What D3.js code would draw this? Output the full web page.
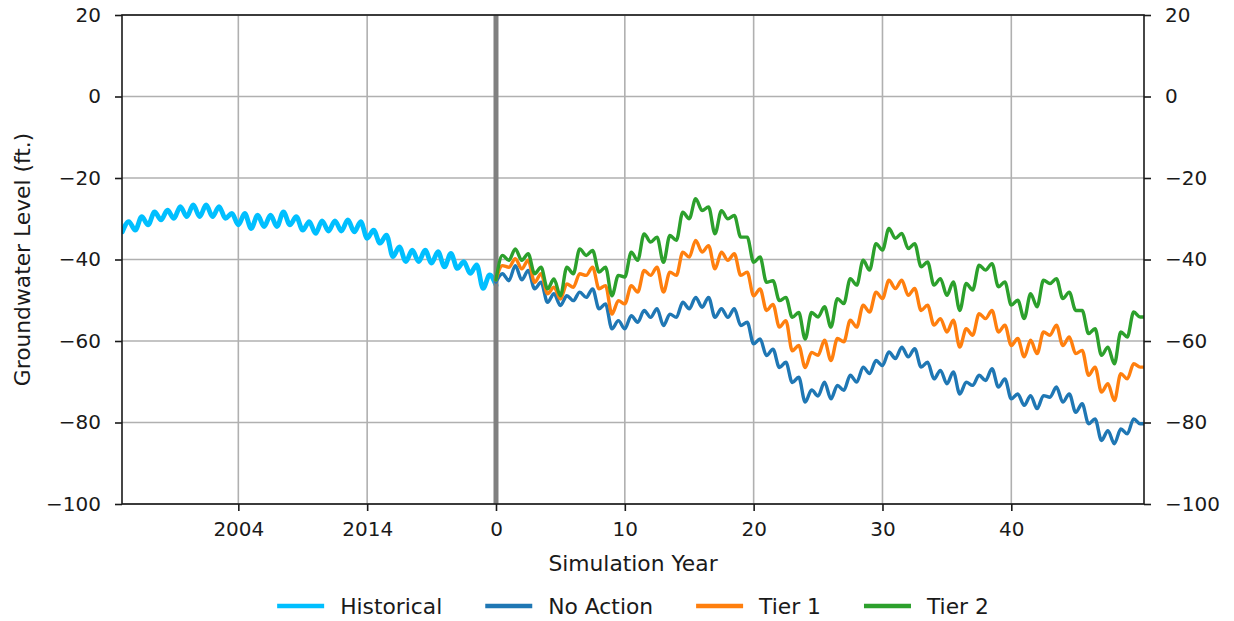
<!DOCTYPE html>
<html>
<head>
<meta charset="utf-8">
<script src="https://cdn.jsdelivr.net/npm/d3@7"></script>
<style>
  body { margin: 0; background: #ffffff; }
  text { font-family: "DejaVu Sans", sans-serif; fill: #1a1a1a; }
</style>
</head>
<body>
<svg id="chart" width="1234" height="621"></svg>
<script>
// Half-year groundwater levels (ft.). Historical record runs from year -29 to 0,
// scenario projections from simulation year 0 to the end of year 50.
const histStart = -29;
const step = 0.5;
const projEnd = 50.3;

const historical = [
  -33.2, -30.7, -32.8, -29.5, -31.5, -28.3, -30.3, -27.9, -29.9, -27.0,
  -29.5, -26.6, -29.5, -26.6, -29.5, -27.0, -29.9, -28.7, -31.5, -28.7,
  -32.4, -29.1, -31.9, -29.1, -31.9, -28.3, -31.5, -29.5, -32.8, -30.7,
  -33.6, -30.5, -33.0, -30.5, -33.0, -30.3, -33.2, -30.7, -34.8, -32.8,
  -36.0, -34.0, -39.3, -36.9, -40.5, -37.7, -40.5, -37.7, -40.9, -38.1,
  -41.8, -38.5, -42.2, -40.5, -43.4, -41.3, -47.1, -43.8, -46.3
];

const noAction = [
  -45.5, -43.5, -45.2, -41.5, -45.0, -42.7, -47.2, -45.6, -50.5, -48.4,
  -51.3, -48.9, -50.1, -48.0, -49.3, -47.2, -52.1, -50.9, -57.0, -55.0,
  -57.0, -53.8, -55.4, -52.5, -54.2, -52.1, -56.2, -53.4, -54.2, -50.5,
  -52.1, -49.3, -51.7, -49.3, -54.2, -52.1, -54.2, -52.1, -56.2, -55.4,
  -60.7, -59.5, -63.6, -62.0, -66.5, -65.2, -70.2, -68.9, -75.0, -72.0,
  -73.5, -70.1, -74.2, -70.9, -72.1, -68.4, -70.1, -66.4, -68.0, -64.8,
  -66.0, -62.7, -64.3, -61.5, -63.9, -61.9, -66.4, -65.2, -69.3, -67.2,
  -70.5, -67.6, -73.0, -70.1, -70.9, -68.4, -69.7, -66.8, -71.3, -69.3,
  -74.2, -73.0, -75.8, -73.4, -76.6, -73.4, -73.8, -71.3, -75.0, -73.0,
  -77.5, -75.4, -80.3, -79.1, -84.4, -82.0, -85.2, -81.6, -82.8, -79.1,
  -80.3, -80.3
];

const tier1 = [
  -45.0, -41.5, -41.9, -39.8, -42.3, -40.2, -45.6, -43.5, -48.4, -46.8,
  -49.7, -46.0, -46.8, -43.5, -43.9, -41.9, -47.2, -46.4, -53.4, -50.1,
  -50.9, -46.4, -48.0, -42.7, -43.9, -41.9, -48.0, -43.1, -43.9, -38.2,
  -39.4, -35.3, -38.2, -36.6, -42.3, -38.2, -40.2, -38.6, -43.9, -43.1,
  -48.9, -47.2, -52.5, -51.0, -56.6, -55.0, -62.4, -61.1, -66.5, -62.8,
  -63.5, -59.8, -64.8, -59.4, -60.2, -54.9, -56.6, -51.2, -52.9, -48.0,
  -49.6, -45.1, -47.1, -45.1, -48.8, -47.1, -52.5, -51.2, -56.1, -54.5,
  -57.8, -54.9, -61.5, -57.0, -58.6, -53.3, -54.5, -52.5, -57.8, -56.1,
  -61.1, -59.4, -63.9, -59.8, -63.1, -57.8, -58.6, -56.1, -61.1, -59.0,
  -63.1, -62.3, -68.4, -66.4, -72.5, -70.5, -74.6, -68.0, -69.3, -65.6,
  -66.4, -66.4
];

const tier2 = [
  -45.0, -39.0, -40.2, -37.4, -40.2, -38.6, -43.5, -41.9, -47.2, -44.8,
  -48.9, -41.9, -43.5, -37.4, -39.0, -37.8, -43.1, -41.9, -48.9, -43.9,
  -44.3, -38.2, -40.2, -33.7, -35.7, -34.5, -40.7, -34.1, -35.3, -28.4,
  -30.0, -25.1, -28.0, -27.1, -33.7, -28.0, -30.0, -29.2, -34.5, -34.5,
  -40.7, -39.4, -45.6, -45.2, -50.1, -49.3, -54.2, -53.0, -59.5, -53.0,
  -54.1, -51.6, -56.6, -49.6, -50.8, -44.7, -46.3, -40.2, -42.6, -36.1,
  -37.7, -32.4, -34.8, -33.6, -37.3, -36.1, -41.8, -40.6, -46.3, -44.7,
  -48.8, -45.5, -52.5, -45.9, -47.5, -41.4, -42.6, -41.0, -46.7, -45.5,
  -51.2, -50.0, -54.5, -48.4, -51.6, -45.1, -45.9, -44.7, -49.6, -48.0,
  -52.5, -52.5, -58.2, -57.0, -63.5, -61.5, -65.6, -57.8, -59.0, -52.9,
  -54.1, -54.1
];

const xTickValues = [-20, -10, 0, 10, 20, 30, 40];
const xTickLabels = ["2004", "2014", "0", "10", "20", "30", "40"];
const yTickValues = [-100, -80, -60, -40, -20, 0, 20];
const seriesNames = ["Historical", "No Action", "Tier 1", "Tier 2"];
const seriesColors = ["#00bfff", "#1f77b4", "#ff7f0e", "#2ca02c"];

// ---- layout ----
const svg = d3.select("#chart");
const plot = { left: 122, right: 1144, top: 15, bottom: 504 };
const tickFont = 20;
const labelFont = 21.8;

const x = d3.scaleLinear().domain([-29.03, 50.3]).range([plot.left, plot.right]);
const y = d3.scaleLinear().domain([-100, 20]).range([plot.bottom, plot.top]);

const histT = historical.map((_, i) => histStart + i * step);
const projT = noAction.map((_, i) => (i < noAction.length - 1 ? i * step : projEnd));

const series = [
  { name: seriesNames[0], color: seriesColors[0], width: 4.8, pts: historical.map((v, i) => [histT[i], v]) },
  { name: seriesNames[1], color: seriesColors[1], width: 3.4, pts: noAction.map((v, i) => [projT[i], v]) },
  { name: seriesNames[2], color: seriesColors[2], width: 3.4, pts: tier1.map((v, i) => [projT[i], v]) },
  { name: seriesNames[3], color: seriesColors[3], width: 3.4, pts: tier2.map((v, i) => [projT[i], v]) }
];

// ---- grid ----
const grid = svg.append("g").attr("stroke", "#b0b0b0").attr("stroke-width", 1.6);
grid.selectAll("line.v").data(xTickValues).join("line")
  .attr("x1", d => x(d)).attr("x2", d => x(d))
  .attr("y1", plot.top).attr("y2", plot.bottom);
grid.selectAll("line.h").data(yTickValues).join("line")
  .attr("x1", plot.left).attr("x2", plot.right)
  .attr("y1", d => y(d)).attr("y2", d => y(d));

// ---- series lines ----
svg.append("clipPath").attr("id", "plotClip")
  .append("rect").attr("x", plot.left).attr("y", plot.top)
  .attr("width", plot.right - plot.left).attr("height", plot.bottom - plot.top);

// seasonal swings drawn as a smooth monotone curve through the half-year values
const line = d3.line()
  .x(d => x(d[0])).y(d => y(d[1]))
  .curve(d3.curveMonotoneX);

const lines = svg.append("g").attr("clip-path", "url(#plotClip)");
lines.append("path")
  .attr("d", line(series[0].pts))
  .attr("fill", "none").attr("stroke", series[0].color)
  .attr("stroke-width", series[0].width).attr("stroke-linejoin", "round").attr("stroke-linecap", "round");

// start of the simulation period
lines.append("line")
  .attr("x1", x(0)).attr("x2", x(0))
  .attr("y1", plot.top).attr("y2", plot.bottom)
  .attr("stroke", "#808080").attr("stroke-width", 5);

series.slice(1).forEach(s => {
  lines.append("path")
    .attr("d", line(s.pts))
    .attr("fill", "none").attr("stroke", s.color)
    .attr("stroke-width", s.width).attr("stroke-linejoin", "round").attr("stroke-linecap", "round");
});

// ---- axes ----
function styleAxis(g) {
  g.select(".domain").remove();
  g.selectAll(".tick line").attr("stroke", "#1a1a1a").attr("stroke-width", 1.6);
  g.selectAll(".tick text").attr("font-size", tickFont).attr("fill", "#1a1a1a")
    .attr("font-family", "DejaVu Sans, sans-serif");
}

svg.append("g")
  .attr("transform", `translate(0,${plot.bottom})`)
  .call(d3.axisBottom(x).tickValues(xTickValues)
    .tickFormat((d, i) => xTickLabels[i]).tickSize(7).tickPadding(11))
  .call(styleAxis);

const yFmt = d3.format("d");
svg.append("g")
  .attr("transform", `translate(${plot.left},0)`)
  .call(d3.axisLeft(y).tickValues(yTickValues).tickFormat(yFmt).tickSize(7).tickPadding(14))
  .call(styleAxis);

svg.append("g")
  .attr("transform", `translate(${plot.right},0)`)
  .call(d3.axisRight(y).tickValues(yTickValues).tickFormat(yFmt).tickSize(7).tickPadding(14))
  .call(styleAxis);

// frame
svg.append("rect")
  .attr("x", plot.left).attr("y", plot.top)
  .attr("width", plot.right - plot.left).attr("height", plot.bottom - plot.top)
  .attr("fill", "none").attr("stroke", "#1a1a1a").attr("stroke-width", 1.6);

// axis titles
svg.append("text")
  .attr("x", (plot.left + plot.right) / 2).attr("y", 571)
  .attr("text-anchor", "middle").attr("font-size", labelFont)
  .text("Simulation Year");

svg.append("text")
  .attr("transform", `translate(30,${(plot.top + plot.bottom) / 2}) rotate(-90)`)
  .attr("text-anchor", "middle").attr("font-size", labelFont)
  .text("Groundwater Level (ft.)");

// ---- legend ----
const legend = svg.append("g");
const handleLen = 47, handleGap = 16, itemGap = 43;
let cursor = 0;
const items = [];
series.forEach(s => {
  const g = legend.append("g");
  g.append("line").attr("x1", 0).attr("x2", handleLen).attr("y1", 0).attr("y2", 0)
    .attr("stroke", s.color).attr("stroke-width", 4.4);
  const t = g.append("text").attr("x", handleLen + handleGap).attr("y", 7.5)
    .attr("font-size", labelFont).text(s.name);
  const w = handleLen + handleGap + t.node().getComputedTextLength();
  items.push({ g, offset: cursor });
  cursor += w + itemGap;
});
const totalW = cursor - itemGap;
const legendLeft = (plot.left + plot.right) / 2 - totalW / 2;
items.forEach(it => it.g.attr("transform", `translate(${legendLeft + it.offset},606)`));
</script>
</body>
</html>
